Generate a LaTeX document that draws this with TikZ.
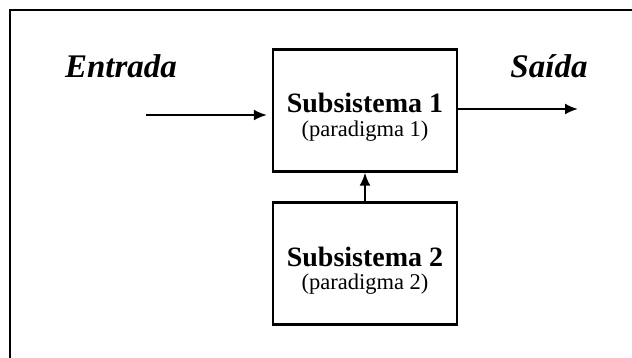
\documentclass[tikz,border=0pt]{standalone}
\usepackage{fontspec}
\setmainfont{Liberation Serif}
\usetikzlibrary{arrows.meta}

\begin{document}
\begin{tikzpicture}[x=1pt, y=-1pt,
        subbox/.style={draw, line width=2.4pt, minimum width=184pt, minimum height=122pt, inner sep=0pt},
        flow/.style={line width=2pt, -{Latex[length=13pt, width=11pt]}},
        title/.style={font=\fontsize{28}{30}\selectfont\bfseries, inner sep=0pt},
        subtitle/.style={font=\fontsize{22.5}{24}\selectfont, inner sep=0pt},
        io/.style={font=\fontsize{33}{36}\selectfont\bfseries\itshape, inner sep=0pt}]
        \useasboundingbox (0, 0) rectangle (632, 358);
        \draw[line width=1.8pt] (10, 400) -- (10, 10) -- (640, 10);

        \node[subbox] (sub1) at (365, 110.5) {};
        \node[subbox] (sub2) at (365, 263.5) {};

        \node[title] (t1) at (365, 103) {Subsistema 1};
        \node[subtitle] (p1) at (365, 131) {(paradigma 1)};
        \node[title] (t2) at (365, 257) {Subsistema 2};
        \node[subtitle] (p2) at (365, 284) {(paradigma 2)};

        \node[io] (entrada) at (121, 66) {Entrada};
        \node[io] (saida) at (549, 66) {Saída};

        \coordinate (in) at (146, 115);
        \coordinate (out) at (578, 109);

        \draw[flow, shorten >=5pt] (in) -- (sub1.west |- in);
        \draw[flow] (sub1.east |- out) -- (out);
        \draw[flow] (sub2.north) -- (sub1.south);
\end{tikzpicture}
\end{document}
